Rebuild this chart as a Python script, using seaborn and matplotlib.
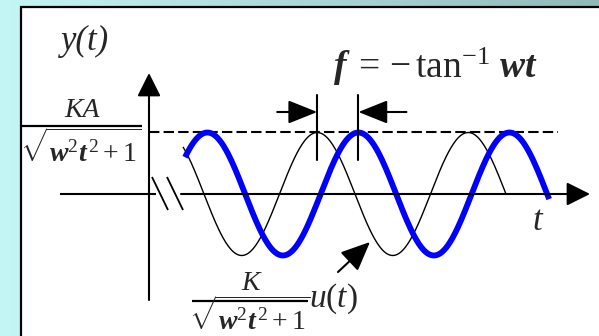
import numpy as np
import matplotlib
matplotlib.use("Agg")
import matplotlib.pyplot as plt
from matplotlib.patches import Rectangle
import seaborn as sns

# ---- data: steady-state sinusoids plotted against wt (radians) ----
amplitude = [1.0, 1.0]                 # input, output (normalised to the dashed level)
peak_wt = [7.00, 2.43]                 # wt of a crest of the input / output trace
trace_start = [1.415, 1.50]            # wt where each trace begins
trace_end = [14.86, 16.65]             # wt where each trace ends
trace_color = ["black", "#0000ff"]
trace_width = [1.0, 4.2]
series_names = ["input", "output"]

sns.set_style("white")
plt.rcParams["font.family"] = ["Liberation Serif", "DejaVu Serif"]
plt.rcParams["mathtext.fontset"] = "custom"
plt.rcParams["mathtext.rm"] = "Liberation Serif"
plt.rcParams["mathtext.it"] = "Liberation Serif:italic"
plt.rcParams["mathtext.bf"] = "Liberation Serif:bold"
plt.rcParams["mathtext.bfit"] = "Liberation Serif:bold:italic"

W, H = 599, 336
fig = plt.figure(figsize=(W / 100, H / 100), dpi=100)

# gradient backdrop
bg = fig.add_axes([0, 0, 1, 1])
grad = np.linspace(0, 1, 256)[None, :, None]
c0 = np.array([196, 246, 246]) / 255
c1 = np.array([144, 186, 184]) / 255
img = c0 * (1 - grad) + c1 * grad
bg.imshow(img, aspect="auto", extent=[0, 1, 0, 1])
bg.set_axis_off()

# white panel
fig.patches.append(Rectangle((21 / W, -0.02), 1.1, 1 - 7 / H + 0.02,
                             transform=fig.transFigure, facecolor="white",
                             edgecolor="black", lw=1.6, zorder=1))

# main axes, origin of the t / y axes at pixel (149, 194)
ox, oy = 149, 194
sx = 151 / (2 * np.pi)      # pixels per radian
sy = 61.5                   # pixels per unit amplitude
ax = fig.add_axes([0, 0, 1, 1], zorder=2)
ax.patch.set_alpha(0)
ax.set_xlim(-ox / sx, (W - ox) / sx)
ax.set_ylim(-(H - oy) / sy, oy / sy)
ax.set_axis_off()


def P(px, py):
    return ((px - ox) / sx, (oy - py) / sy)


def seg(p, q, **kw):
    a, b = P(*p), P(*q)
    ax.plot([a[0], b[0]], [a[1], b[1]], solid_capstyle="butt", **kw)


def arrow(tail, tip, hl, hw, lw=1.5):
    ax.annotate("", xy=P(*tip), xytext=P(*tail),
                arrowprops=dict(arrowstyle=f"-|>,head_length={hl},head_width={hw}",
                                mutation_scale=14.4, lw=lw, color="black",
                                shrinkA=0, shrinkB=0))

# axes with break marks
arrow((149, 300), (149, 73), 1.0, 0.5)
seg((60, 194), (156, 194), color="black", lw=1.5)
arrow((181, 194), (590, 194), 1.0, 0.5)
seg((152, 177), (168, 210), color="black", lw=1.3)
seg((167, 177), (183, 210), color="black", lw=1.3)

# dashed amplitude level
ax.plot([0, P(558, 0)[0]], [amplitude[1], amplitude[1]], color="black",
        lw=1.5, dashes=(5, 2))

# the two sinusoids
for amp, pk, t0, t1, col, lw, name in zip(amplitude, peak_wt, trace_start,
                                          trace_end, trace_color, trace_width,
                                          series_names):
    wt = np.linspace(t0, t1, 400)
    y = amp * np.cos(wt - pk)
    sns.lineplot(x=wt, y=y, ax=ax, color=col, lw=lw, label=name, legend=False,
                 solid_capstyle="butt")

# phase-shift markers at neighbouring crests
crest_in = peak_wt[0]
crest_out = peak_wt[1] + 2 * np.pi
for c in (crest_in, crest_out):
    ax.plot([c, c], [P(0, 160)[1], P(0, 95)[1]], color="black", lw=1.5)
px_in = ox + crest_in * sx
px_out = ox + crest_out * sx
arrow((px_in - 40, 112), (px_in, 112), 1.25, 0.5)
arrow((px_out + 48, 112), (px_out, 112), 1.25, 0.5)

# pointer to the input trace
arrow((338, 272), (370, 242), 1.25, 0.55)

# labels
ax.text(*P(85, 41), "y(t)", fontsize=25, style="italic", ha="center",
        va="center")
ax.text(*P(537, 222), "t", fontsize=25, style="italic", ha="center",
        va="center")
ax.text(*P(333, 78),
        r"$\mathbfit{f}\;=\,{-}\,\tan^{-1}\,\mathbfit{w}\mathbfit{t}$",
        fontsize=27, ha="left", va="baseline")

ax.text(*P(82, 117), "KA", fontsize=20, style="italic", ha="center",
        va="baseline")
seg((22, 126), (142, 126), color="black", lw=1.6)
ax.text(*P(81, 162), r"$\sqrt{\mathbfit{w}^{2}\mathbfit{t}^{\,2}+1}$",
        fontsize=20, ha="center", va="baseline")

ax.text(*P(251, 290), "K", fontsize=20, style="italic", ha="center",
        va="baseline")
seg((192, 301), (308, 301), color="black", lw=1.6)
ax.text(*P(250, 330), r"$\sqrt{\mathbfit{w}^{2}\mathbfit{t}^{\,2}+1}$",
        fontsize=20, ha="center", va="baseline")
ax.text(*P(309, 307), r"$u(t)$", fontsize=24, ha="left", va="baseline")

fig.savefig("out.png", dpi=100)
